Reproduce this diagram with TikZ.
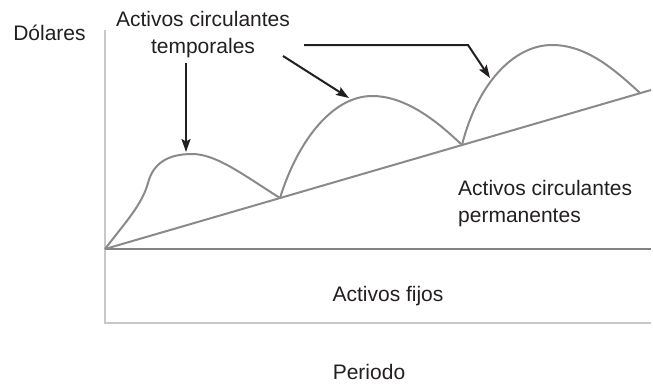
\documentclass[tikz,border=0pt]{standalone}
\usepackage{fontspec}
\setmainfont{Liberation Sans}
\usetikzlibrary{arrows.meta}
\definecolor{ink}{HTML}{231F20}
\definecolor{curvegray}{HTML}{8A8A8A}
\definecolor{axisgray}{HTML}{C8C8C8}
\begin{document}
\begin{tikzpicture}[x=1pt,y=-1pt,
  lbl/.style={inner sep=0pt,text=ink,font=\fontsize{21}{26.5}\selectfont},
  curve/.style={draw=curvegray,line width=2pt,line join=round},
  axisline/.style={draw=axisgray,line width=1.4pt},
  pointer/.style={draw=ink,line width=2pt,-{Stealth[length=13pt,width=9pt,inset=2.5pt]}}]
\useasboundingbox (0,0) rectangle (653,383);

% axes
\coordinate (top) at (105,30);
\coordinate (corner) at (105,323);
\coordinate (right) at (651,323);
\draw[axisline] (top) -- (corner) -- (right);

% fixed assets line and permanent line
\coordinate (O) at (105,249);
\coordinate (Oend) at (651,249);
\coordinate (dend) at (651,90);
\draw[curve,draw=curvegray!95!black,line width=2.6pt] (O) -- (Oend);
\draw[curve] (O) -- (dend);

% humps
\coordinate (m1) at (280,198);
\coordinate (m2) at (462,145);
\coordinate (m3) at (640,93);
\draw[curve] (O) .. controls (124,224) and (142,205) .. (148,183)
  .. controls (153,164) and (167,154) .. (192,154)
  .. controls (216,154) and (242,174) .. (m1);
\draw[curve] (m1) .. controls (298,140) and (333,96) .. (372,96)
  .. controls (405,96) and (436,120) .. (m2);
\draw[curve] (m2) .. controls (477,85) and (513,45) .. (552,45)
  .. controls (585,45) and (612,67) .. (m3);

% labels
\node[lbl,anchor=base] (dolares) at (49.5,40) {Dólares};
\node[lbl,anchor=base,align=center] (temporales) at (203,53) {Activos circulantes\\temporales};
\node[lbl,anchor=base west,align=left] (permanentes) at (458,222) {Activos circulantes\\permanentes};
\node[lbl,anchor=base] (fijos) at (388,301) {Activos fijos};
\node[lbl,anchor=base] (periodo) at (369,379) {Periodo};

% pointers
\coordinate (s1) at (186,63);
\coordinate (t1) at (186,152);
\coordinate (s2) at (283,56);
\coordinate (t2) at (349,98);
\coordinate (s3) at (304,45);
\coordinate (k3) at (468,45);
\coordinate (t3) at (490,78);
\draw[pointer] (s1) -- (t1);
\draw[pointer] (s2) -- (t2);
\draw[pointer] (s3) -- (k3) -- (t3);
\end{tikzpicture}
\end{document}
